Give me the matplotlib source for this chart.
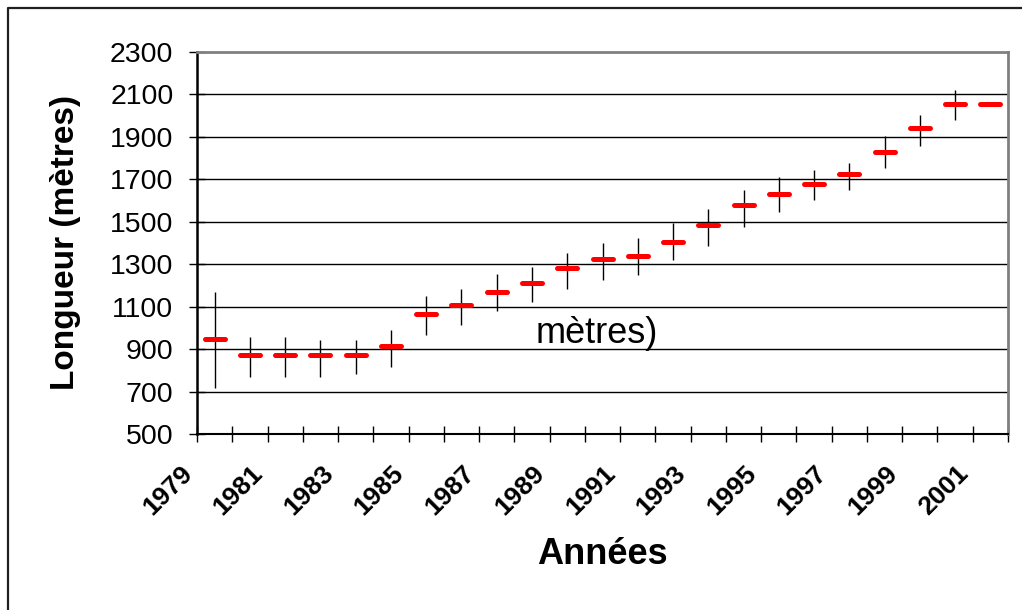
import numpy as np
import matplotlib
matplotlib.use("Agg")
import matplotlib.pyplot as plt
from matplotlib.lines import Line2D
from matplotlib.markers import MarkerStyle

# donnees
annees = list(range(1979, 2002))
longueur = [950, 870, 870, 870, 870, 917, 1065, 1110, 1167, 1212, 1280, 1325,
            1338, 1407, 1485, 1577, 1633, 1680, 1725, 1828, 1942, 2057, 2057]
haut = [1170, 957, 957, 944, 944, 988, 1150, 1184, 1252, 1286, 1355, 1402,
        1423, 1493, 1559, 1650, 1710, 1743, 1777, 1902, 2003, 2120, np.nan]
bas = [715, 770, 770, 770, 784, 817, 966, 1012, 1079, 1123, 1181, 1228,
       1250, 1319, 1387, 1477, 1547, 1603, 1650, 1752, 1855, 1980, np.nan]
graduations_y = [500, 700, 900, 1100, 1300, 1500, 1700, 1900, 2100, 2300]

plt.rcParams['font.family'] = ['Liberation Sans', 'DejaVu Sans']

fig = plt.figure(figsize=(10.22, 6.10), dpi=100)
ax = fig.add_axes([197 / 1022, 1 - 434 / 610, 811 / 1022, 382 / 610])

x = np.arange(len(annees)) + 0.5

# lignes haut-bas puis tirets rouges
ax.vlines(x, bas, haut, color='black', lw=1.0, zorder=3)
tiret = MarkerStyle('_', capstyle='round')
ax.plot(x, longueur, ls='none', marker=tiret, ms=14, mew=3.6, color='#ff0000', zorder=4)

ax.set_xlim(0, len(annees))
ax.set_ylim(500, 2300)
ax.set_yticks(graduations_y)
ax.set_yticklabels([str(v) for v in graduations_y], fontsize=20.5)

ticks_x = np.arange(len(annees) + 1)
labels_x = [str(annees[i]) if (i < len(annees) and i % 2 == 0) else '' for i in ticks_x]
ax.set_xticks(ticks_x)
ax.set_xticklabels(labels_x, fontsize=19, fontweight='bold', rotation=45,
                   ha='right', va='top', rotation_mode='default')

ax.tick_params(axis='y', direction='inout', length=12, width=1, pad=11, colors='black')
ax.tick_params(axis='x', direction='inout', length=11, width=1, pad=14, colors='black')

for v in graduations_y[1:-1]:
    ax.axhline(v, color='black', lw=1.0, zorder=1)

ax.spines['left'].set_color('black')
ax.spines['left'].set_linewidth(1.8)
ax.spines['bottom'].set_color('black')
ax.spines['bottom'].set_linewidth(1.5)
ax.spines['top'].set_color('#808080')
ax.spines['top'].set_linewidth(2.0)
ax.spines['right'].set_color('#808080')
ax.spines['right'].set_linewidth(2.0)

ax.set_xlabel('Années', fontsize=26, fontweight='bold')
ax.xaxis.set_label_coords(0.5, -0.27)
ax.set_ylabel('Longueur (mètres)', fontsize=24, fontweight='bold')
ax.yaxis.set_label_coords(-0.143, 0.5)

# texte isole au milieu du graphique
ax.text(11.35, 975, 'mètres)', fontsize=26, ha='center', va='center')

# cadre du graphique (haut et gauche)
fig.add_artist(Line2D([8 / 1022, 8 / 1022, 1.0], [0.0, 1 - 8 / 610, 1 - 8 / 610],
                      transform=fig.transFigure, color='#202020', lw=1.6))

fig.savefig('out.png', dpi=100)
